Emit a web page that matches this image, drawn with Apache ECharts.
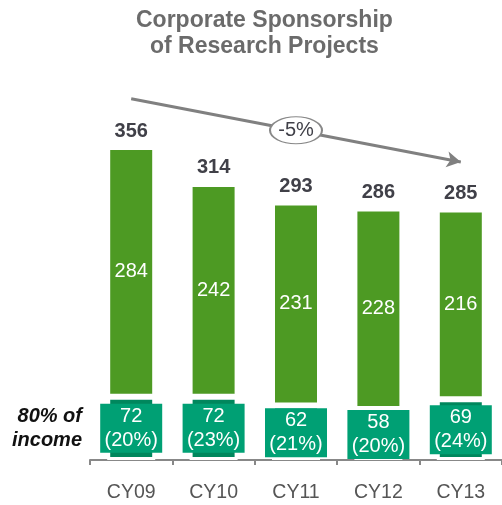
<!DOCTYPE html>
<html>
<head>
<meta charset="utf-8">
<script src="https://cdn.jsdelivr.net/npm/echarts@6/dist/echarts.min.js"></script>
<style>
  html, body { margin: 0; padding: 0; background: #fff; }
  #main { width: 502px; height: 505px; }
</style>
</head>
<body>
<div id="main"></div>
<script>
var years = ['CY09', 'CY10', 'CY11', 'CY12', 'CY13'];
var incomeVals = [72, 72, 62, 58, 69];      // bottom teal part
var incomePct = [20, 23, 21, 20, 24];
var otherVals = [284, 242, 231, 228, 216];  // top green part
var totals = [356, 314, 293, 286, 285];
var trendStart = 411, trendEnd = 339, trendLabel = '-5%';

var font = 'Liberation Sans, Arial, sans-serif';
var myChart = echarts.init(document.getElementById('main'));

var option = {
  animation: false,
  grid: { left: 90, right: 0, top: 38, bottom: 45 },
  graphic: [
    {
      type: 'text', left: 136, top: 8,
      style: {
        text: 'Corporate Sponsorship\nof Research Projects',
        font: 'bold 23px ' + font, fill: '#6b6b6b',
        textAlign: 'center', lineHeight: 26
      }
    },
    {
      type: 'text', right: 420, top: 404,
      style: {
        text: '80% of\nincome',
        font: 'italic bold 20px ' + font, fill: '#111',
        textAlign: 'right', lineHeight: 24
      }
    }
  ],
  xAxis: {
    type: 'category',
    data: years,
    axisLine: { lineStyle: { color: '#888', width: 2 } },
    axisTick: { show: true, length: 5, lineStyle: { color: '#888', width: 2 } },
    axisLabel: { margin: 23, fontSize: 19.5, color: '#555', fontFamily: font }
  },
  yAxis: { type: 'value', min: 0, max: 480, show: false },
  series: [
    {
      name: 'income',
      type: 'bar',
      stack: 'a',
      barWidth: 48,
      data: incomeVals,
      itemStyle: { color: '#00875d', borderColor: '#fff', borderWidth: 3 },
      label: {
        show: true, position: 'inside',
        formatter: function (p) { return p.value + '\n(' + incomePct[p.dataIndex] + '%)'; },
        color: '#fff', fontSize: 20, lineHeight: 24, fontFamily: font,
        backgroundColor: '#00a074', width: 62, height: 49, align: 'center',
        verticalAlign: 'middle', padding: 0
      },
      z: 3
    },
    {
      name: 'other',
      type: 'bar',
      stack: 'a',
      barWidth: 48,
      data: otherVals,
      itemStyle: { color: '#4d9a23', borderColor: '#fff', borderWidth: 3 },
      label: {
        show: true, position: 'inside',
        color: '#fff', fontSize: 20, fontFamily: font
      }
    },
    {
      name: 'total',
      type: 'bar',
      stack: 'a',
      barWidth: 48,
      data: years.map(function () { return 0; }),
      itemStyle: { color: 'transparent' },
      label: {
        show: true, position: 'top', distance: 6,
        formatter: function (p) { return totals[p.dataIndex]; },
        color: '#404048', fontSize: 20, fontWeight: 'bold', fontFamily: font
      },
      markLine: {
        silent: true,
        symbol: ['none', 'arrow'],
        symbolSize: [12, 14],
        label: { show: false },
        lineStyle: { color: '#808080', width: 3, type: 'solid' },
        data: [[{ coord: [0, trendStart] }, { coord: [4, trendEnd] }]]
      },
      markPoint: {
        silent: true,
        symbol: 'circle',
        symbolSize: [52, 27],
        itemStyle: { color: '#fff', borderColor: '#888', borderWidth: 1.5 },
        label: { show: true, formatter: trendLabel, color: '#404048', fontSize: 20, fontFamily: font },
        data: [{ coord: [2, (trendStart + trendEnd) / 2] }]
      }
    }
  ]
};
myChart.setOption(option);
</script>
</body>
</html>
